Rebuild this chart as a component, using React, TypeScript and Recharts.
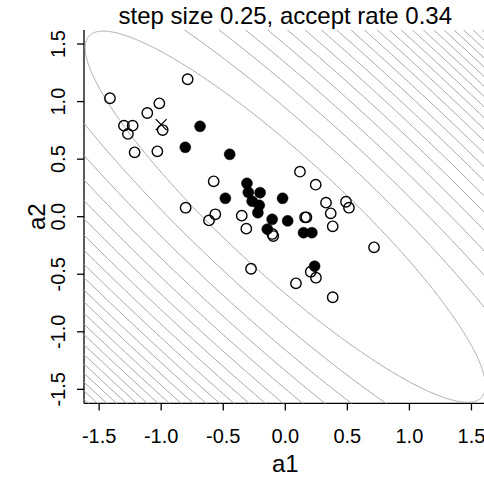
import React from 'react';
import { ScatterChart, Scatter, XAxis, YAxis } from 'recharts';

// Axis ticks
const xTicks = [-1.5, -1, -0.5, 0, 0.5, 1, 1.5];
const yTicks = [-1.5, -1, -0.5, 0, 0.5, 1, 1.5];
const axisDomain = [-1.622, 1.622];

// Rejected proposals (open circles)
const rejectedA1 = [-1.413, -0.787, -1.015, -1.112, -1.30, -1.23, -1.268, -0.988, -1.214, -1.031, -0.577, -0.803, -0.564, -0.615, -0.351, -0.314, 0.118, 0.245, 0.328, 0.489, 0.513, 0.366, 0.382, 0.159, 0.170, -0.105, -0.097, 0.715, -0.276, 0.086, 0.205, 0.247, 0.382];
const rejectedA2 = [1.029, 1.194, 0.985, 0.901, 0.791, 0.791, 0.719, 0.753, 0.559, 0.568, 0.307, 0.078, 0.021, -0.032, 0.009, -0.104, 0.391, 0.278, 0.122, 0.130, 0.078, 0.029, -0.084, -0.005, -0.005, -0.150, -0.168, -0.266, -0.452, -0.579, -0.478, -0.530, -0.700];

// Accepted draws (filled circles)
const acceptedA1 = [-0.687, -0.806, -0.448, -0.309, -0.298, -0.203, -0.483, -0.267, -0.21, -0.221, -0.022, -0.106, 0.019, -0.145, 0.147, 0.214, 0.236];
const acceptedA2 = [0.785, 0.603, 0.542, 0.290, 0.212, 0.209, 0.160, 0.135, 0.099, 0.035, 0.160, -0.023, -0.036, -0.108, -0.139, -0.139, -0.430];

// Starting point (cross)
const startA1 = [-1.0];
const startA2 = [0.80];

// Target density contours: correlation and quadratic-form levels
const targetRho = -0.91;
const contourLevelStep = 2.6;
const contourLevelCount = 22;

const toPoints = (xs: number[], ys: number[]) => xs.map((x, i) => ({ x, y: ys[i] }));

const contourSets = Array.from({ length: contourLevelCount }, (_, k) => {
  const c = (k + 1) * contourLevelStep;
  const r = Math.sqrt(c);
  const s = Math.sqrt(1 - targetRho * targetRho);
  const n = 900;
  const pts: { x: number; y: number }[] = [];
  for (let i = 0; i <= n; i++) {
    const t = (2 * Math.PI * i) / n;
    pts.push({ x: r * Math.cos(t), y: r * (targetRho * Math.cos(t) + s * Math.sin(t)) });
  }
  return pts;
});

const FONT = 'Liberation Sans, Arial, Helvetica, sans-serif';

const XTick = (props: any) => {
  const { x, y, payload } = props;
  return (
    <text x={x} y={y + 30.3} textAnchor="middle" fontSize={20} fontFamily={FONT} fill="#000">
      {Number(payload.value).toFixed(1)}
    </text>
  );
};

const YTick = (props: any) => {
  const { x, y, payload } = props;
  const bx = x - 10;
  return (
    <text x={bx} y={y} textAnchor="middle" fontSize={20} fontFamily={FONT} fill="#000" transform={`rotate(-90, ${bx}, ${y})`}>
      {Number(payload.value).toFixed(1)}
    </text>
  );
};

const XLabel = (props: any) => {
  const vb = props.viewBox;
  return (
    <text x={vb.x + vb.width / 2} y={vb.y + 68.3} textAnchor="middle" fontSize={24} fontFamily={FONT} fill="#000">
      a1
    </text>
  );
};

const YLabel = (props: any) => {
  const vb = props.viewBox;
  const bx = vb.x + 45;
  const cy = vb.y + vb.height / 2;
  return (
    <text x={bx} y={cy} textAnchor="middle" fontSize={24} fontFamily={FONT} fill="#000" transform={`rotate(-90, ${bx}, ${cy})`}>
      a2
    </text>
  );
};

const OpenCircle = (p: any) => (
  <circle cx={p.cx} cy={p.cy} r={5.2} fill="none" stroke="#000" strokeWidth={1.4} />
);
const FilledCircle = (p: any) => (
  <circle cx={p.cx} cy={p.cy} r={5.5} fill="#000" stroke="#000" strokeWidth={0.5} />
);
const Cross = (p: any) => {
  const d = 5.5;
  return (
    <path
      d={`M${p.cx - d},${p.cy - d}L${p.cx + d},${p.cy + d}M${p.cx - d},${p.cy + d}L${p.cx + d},${p.cy - d}`}
      stroke="#000"
      strokeWidth={1.3}
      fill="none"
    />
  );
};
const NoShape = () => <g />;

export default function App() {
  return (
    <div style={{ position: 'absolute', left: 0, top: 0, width: 484, height: 477, overflow: 'hidden', background: '#fff' }}>
      <ScatterChart width={490} height={477} margin={{ top: 30, right: 3.4, bottom: 0, left: 0 }}>
        <XAxis
          type="number"
          dataKey="x"
          domain={axisDomain}
          ticks={xTicks}
          allowDataOverflow
          height={73.6}
          tickSize={7}
          tick={<XTick />}
          axisLine={{ stroke: '#000', strokeWidth: 1.3 }}
          tickLine={{ stroke: '#000', strokeWidth: 1.3 }}
          label={<XLabel />}
        />
        <YAxis
          type="number"
          dataKey="y"
          domain={axisDomain}
          ticks={yTicks}
          allowDataOverflow
          width={84}
          tickSize={7}
          tick={<YTick />}
          axisLine={{ stroke: '#000', strokeWidth: 1.3 }}
          tickLine={{ stroke: '#000', strokeWidth: 1.3 }}
          label={<YLabel />}
        />
        {contourSets.map((pts, i) => (
          <Scatter
            key={'c' + i}
            data={pts}
            line={{ stroke: '#a8a8a8', strokeWidth: 1 }}
            shape={NoShape}
            isAnimationActive={false}
            legendType="none"
          />
        ))}
        <Scatter data={toPoints(rejectedA1, rejectedA2)} shape={OpenCircle} isAnimationActive={false} />
        <Scatter data={toPoints(acceptedA1, acceptedA2)} shape={FilledCircle} isAnimationActive={false} />
        <Scatter data={toPoints(startA1, startA2)} shape={Cross} isAnimationActive={false} />
      </ScatterChart>
      <svg style={{ position: 'absolute', left: 0, top: 0, pointerEvents: 'none' }} width={484} height={477}>
        <text x={285.3} y={24.3} textAnchor="middle" fontSize={24} fontFamily={FONT} fill="#000">
          step size 0.25, accept rate 0.34
        </text>
      </svg>
    </div>
  );
}
